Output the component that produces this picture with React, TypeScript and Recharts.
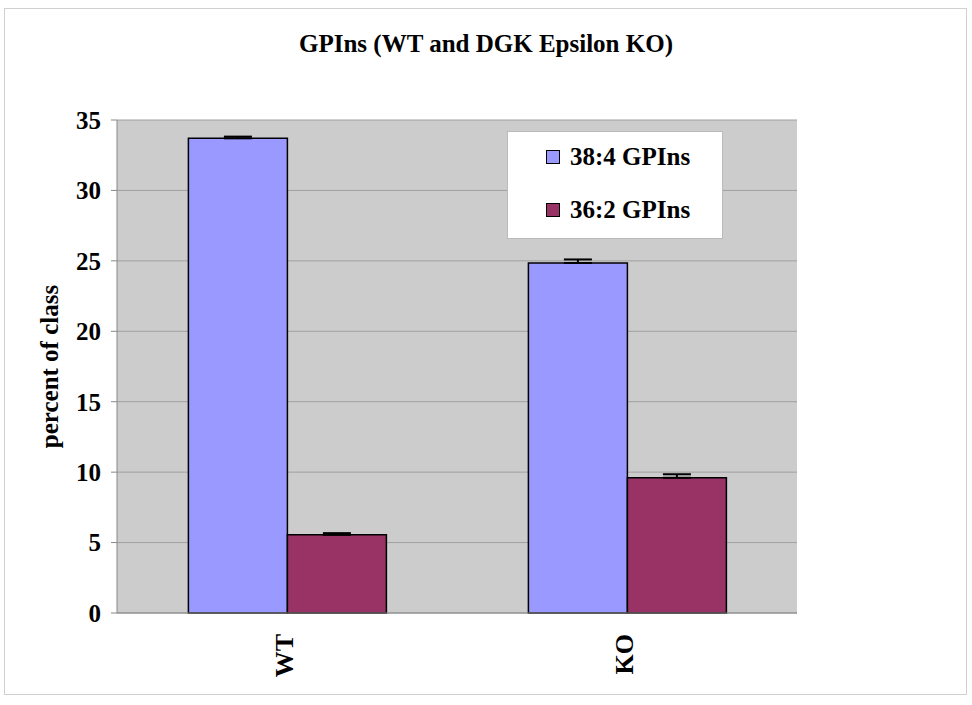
import { BarChart, Bar, XAxis, YAxis, CartesianGrid, ErrorBar } from 'recharts'

// ── Data ──────────────────────────────────────────────────────────────────────

const groups = ['WT', 'KO']
const gpins384 = [33.7, 24.85]
const gpins362 = [5.55, 9.6]
const err384 = [0.12, 0.25]
const err362 = [0.12, 0.25]
const yTicks = [0, 5, 10, 15, 20, 25, 30, 35]
const seriesLabels = ['38:4 GPIns', '36:2 GPIns']

const BLUE = '#9999ff'
const PLUM = '#993366'
const FONT = '"Liberation Serif", "Times New Roman", serif'

const data = groups.map((g, i) => ({
  group: g,
  a: gpins384[i],
  b: gpins362[i],
  aErr: [0, err384[i]],
  bErr: [0, err362[i]],
}))

// ── Pieces ────────────────────────────────────────────────────────────────────

function RotatedTick({ x, y, payload }: any) {
  return (
    <text
      transform={`translate(${x - 3}, ${y + 13}) rotate(-90)`}
      textAnchor="end"
      dominantBaseline="central"
      fontFamily={FONT}
      fontWeight="bold"
      fontSize={26}
      fill="#000"
    >
      {payload.value}
    </text>
  )
}

function LegendBox() {
  const colors = [BLUE, PLUM]
  return (
    <div
      style={{
        position: 'absolute',
        left: 507,
        top: 131,
        width: 214,
        height: 106,
        background: '#fff',
        border: '1px solid #bbb',
        fontFamily: FONT,
        fontWeight: 'bold',
        fontSize: 25,
      }}
    >
      {seriesLabels.map((label, i) => (
        <div
          key={label}
          style={{ position: 'absolute', left: 38, top: 11 + i * 53, display: 'flex', alignItems: 'center' }}
        >
          <span
            style={{
              display: 'inline-block',
              width: 12,
              height: 12,
              background: colors[i],
              border: '1.5px solid #000',
              marginRight: 10,
            }}
          />
          <span>{label}</span>
        </div>
      ))}
    </div>
  )
}

// ── Chart ─────────────────────────────────────────────────────────────────────

export default function App() {
  return (
    <div style={{ position: 'absolute', left: 0, top: 0, width: 972, height: 705, background: '#fff' }}>
      <div
        style={{
          position: 'absolute',
          left: 4,
          top: 8,
          width: 961,
          height: 685,
          border: '1px solid #d0d0d0',
        }}
      />
      <div
        style={{
          position: 'absolute',
          left: 0,
          top: 30,
          width: 972,
          textAlign: 'center',
          fontFamily: FONT,
          fontWeight: 'bold',
          fontSize: 25,
        }}
      >
        GPIns (WT and DGK Epsilon KO)
      </div>
      <div style={{ position: 'absolute', left: 0, top: 0 }}>
        <BarChart
          width={972}
          height={705}
          data={data}
          margin={{ top: 120, right: 175, bottom: 0, left: 0 }}
          barCategoryGap="21%"
          barGap={0}
        >
          <CartesianGrid vertical={false} fill="#cccccc" stroke="#a0a0a0" strokeWidth={1} />
          <XAxis
            dataKey="group"
            height={92}
            tick={<RotatedTick />}
            tickLine={false}
            axisLine={{ stroke: '#888' }}
            interval={0}
          />
          <YAxis
            width={117}
            domain={[0, 35]}
            ticks={yTicks}
            interval={0}
            tickSize={6}
            tickMargin={10}
            tickLine={{ stroke: '#888' }}
            axisLine={{ stroke: '#888' }}
            tick={{ fontFamily: FONT, fontWeight: 'bold', fontSize: 25, fill: '#000' }}
            label={{
              value: 'percent of class',
              angle: -90,
              position: 'center',
              dx: -9,
              style: { fontFamily: FONT, fontWeight: 'bold', fontSize: 25, fill: '#000', textAnchor: 'middle' },
            }}
          />
          <YAxis
            yAxisId="right"
            orientation="right"
            width={0}
            domain={[0, 35]}
            tick={false}
            tickLine={false}
            axisLine={{ stroke: '#888' }}
          />
          <Bar dataKey="a" name={seriesLabels[0]} fill={BLUE} stroke="#000" strokeWidth={1.5} isAnimationActive={false}>
            <ErrorBar dataKey="aErr" width={14} stroke="#000" strokeWidth={2} direction="y" />
          </Bar>
          <Bar dataKey="b" name={seriesLabels[1]} fill={PLUM} stroke="#000" strokeWidth={1.5} isAnimationActive={false}>
            <ErrorBar dataKey="bErr" width={14} stroke="#000" strokeWidth={2} direction="y" />
          </Bar>
        </BarChart>
      </div>
      <LegendBox />
    </div>
  )
}
